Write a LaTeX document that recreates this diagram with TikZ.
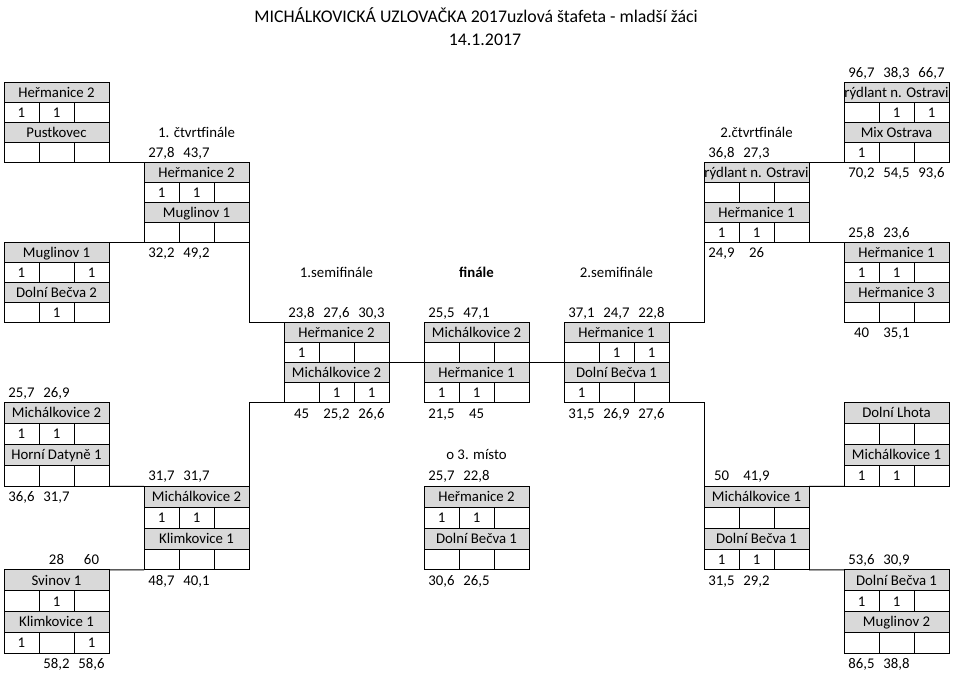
\documentclass[tikz,border=0pt]{standalone}
\usepackage{fontspec}
\setmainfont{Carlito}
\usepackage{xcolor}
\usetikzlibrary{positioning}
\definecolor{headgray}{HTML}{D9D9D9}
\tikzset{cellh/.store in=\cellh, cellh=20pt}
% one team: grey name row and three score cells below it
\newcommand{\team}[6]{%
  \node[head,anchor=north west] (#1) at (#2) {#3};
  \node[cell,anchor=north west] (#1-1) at (#1.south west) {#4};
  \node[cell,right=0pt of #1-1] (#1-2) {#5};
  \node[cell,right=0pt of #1-2] (#1-3) {#6};
}
% row of times, first one in column #2
\newcommand{\res}[4]{%
  \foreach \v [count=\i] in {#4}
    \node[num] (#1-\i) at ({21.5+35*(#2+\i-1)},#3) {\v};
}
\begin{document}
\begin{tikzpicture}[x=1pt,y=-1pt,
  txt/.style={font=\fontsize{14.8}{16}\selectfont,inner sep=0pt,outer sep=0pt,text height=9.6pt,text depth=0pt},
  head/.style={txt,draw,line width=1pt,fill=headgray,minimum width=105pt,minimum height=\cellh},
  cell/.style={txt,draw,line width=1pt,minimum width=35pt,minimum height=\cellh},
  num/.style={txt},
  lbl/.style={txt},
  ttl/.style={inner sep=0pt,font=\fontsize{17.8}{20}\selectfont},
  link/.style={line width=1pt}]
\path[fill=white,use as bounding box] (0,0) rectangle (958,685);
\node[ttl] (title) at (476,15) {MICHÁLKOVICKÁ UZLOVAČKA 2017uzlová štafeta - mladší žáci};
\node[ttl] (date) at (485,40) {14.1.2017};

\node[lbl] (lq1) at (196.5,132.7) {1. čtvrtfinále};
\node[lbl] (lq2) at (756.5,132.7) {2.čtvrtfinále};
\node[lbl] (ls1) at (336.5,272.7) {1.semifinále};
\node[lbl,font=\fontsize{14.8}{16}\selectfont\bfseries] (lfin) at (476.5,272.7) {finále};
\node[lbl] (ls2) at (616.5,272.7) {2.semifinále};
\node[lbl] (l3rd) at (476.5,455) {o 3. místo};

% upper half
\team{e1t}{4,82.7}{Heřmanice 2}{1}{1}{}
\team{e1b}{e1t-1.south west}{Pustkovec}{}{}{}
\team{q1t}{144,162.7}{Heřmanice 2}{1}{1}{}
\team{q1b}{q1t-1.south west}{Muglinov 1}{}{}{}
\team{e2t}{4,242.7}{Muglinov 1}{1}{}{1}
\team{e2b}{e2t-1.south west}{Dolní Bečva 2}{}{1}{}
\team{e5t}{844,82.7}{rýdlant n. Ostravi}{}{1}{1}
\team{e5b}{e5t-1.south west}{Mix Ostrava}{1}{}{}
\team{q2t}{704,162.7}{rýdlant n. Ostravi}{}{}{}
\team{q2b}{q2t-1.south west}{Heřmanice 1}{1}{1}{}
\team{e6t}{844,242.7}{Heřmanice 1}{1}{1}{}
\team{e6b}{e6t-1.south west}{Heřmanice 3}{}{}{}
\team{s1t}{284,322.7}{Heřmanice 2}{1}{}{}
\team{s1b}{s1t-1.south west}{Michálkovice 2}{}{1}{1}
\team{fint}{424,322.7}{Michálkovice 2}{}{}{}
\team{finb}{fint-1.south west}{Heřmanice 1}{1}{1}{}
\team{s2t}{564,322.7}{Heřmanice 1}{}{1}{1}
\team{s2b}{s2t-1.south west}{Dolní Bečva 1}{1}{}{}

% lower half, rows are a bit taller
\begin{scope}[cellh=20.9pt]
\team{e3t}{4,402.7}{Michálkovice 2}{1}{1}{}
\team{e3b}{e3t-1.south west}{Horní Datyně 1}{}{}{}
\team{q3t}{144,486.3}{Michálkovice 2}{1}{1}{}
\team{q3b}{q3t-1.south west}{Klimkovice 1}{}{}{}
\team{e4t}{4,569.9}{Svinov 1}{}{1}{}
\team{e4b}{e4t-1.south west}{Klimkovice 1}{1}{}{1}
\team{thrt}{424,486.3}{Heřmanice 2}{1}{1}{}
\team{thrb}{thrt-1.south west}{Dolní Bečva 1}{}{}{}
\team{e7t}{844,402.7}{Dolní Lhota}{}{}{}
\team{e7b}{e7t-1.south west}{Michálkovice 1}{1}{1}{}
\team{q4t}{704,486.3}{Michálkovice 1}{}{}{}
\team{q4b}{q4t-1.south west}{Dolní Bečva 1}{1}{1}{}
\team{e8t}{844,569.9}{Dolní Bečva 1}{1}{1}{}
\team{e8b}{e8t-1.south west}{Muglinov 2}{}{}{}
\end{scope}

\res{n1}{4}{152.7}{{27,8},{43,7}}
\res{n2}{4}{252.7}{{32,2},{49,2}}
\res{n3}{0}{392.7}{{25,7},{26,9}}
\res{n4}{0}{496.8}{{36,6},{31,7}}
\res{n5}{4}{475.9}{{31,7},{31,7}}
\res{n6}{4}{580.4}{{48,7},{40,1}}
\res{n7}{1}{559.5}{28,60}
\res{n8}{1}{664}{{58,2},{58,6}}
\res{n9}{8}{312.7}{{23,8},{27,6},{30,3}}
\res{n10}{12}{312.7}{{25,5},{47,1}}
\res{n11}{16}{312.7}{{37,1},{24,7},{22,8}}
\res{n12}{8}{413.2}{45,{25,2},{26,6}}
\res{n13}{12}{413.2}{{21,5},45}
\res{n14}{16}{413.2}{{31,5},{26,9},{27,6}}
\res{n15}{12}{475.9}{{25,7},{22,8}}
\res{n16}{12}{580.4}{{30,6},{26,5}}
\res{n17}{24}{72.7}{{96,7},{38,3},{66,7}}
\res{n18}{20}{152.7}{{36,8},{27,3}}
\res{n19}{24}{172.7}{{70,2},{54,5},{93,6}}
\res{n20}{24}{232.7}{{25,8},{23,6}}
\res{n21}{20}{252.7}{{24,9},26}
\res{n22}{24}{332.7}{40,{35,1}}
\res{n23}{20}{475.9}{50,{41,9}}
\res{n24}{20}{580.4}{{31,5},{29,2}}
\res{n25}{24}{559.5}{{53,6},{30,9}}
\res{n26}{24}{664}{{86,5},{38,8}}

\draw[link] (e1b-3.south east) -- (q1t.north west);
\draw[link] (e2t.north east) -- (q1b-1.south west);
\draw[link] (q1b-3.south east) |- (s1t.north west);
\draw[link] (e3b-3.south east) -- (q3t.north west);
\draw[link] (e4t.north east) -- (q3b-1.south west);
\draw[link] (q3t.north east) |- (s1b-1.south west);
\draw[link] (s1b.north east) -- (finb.north west);
\draw[link] (finb.north east) -- (s2b.north west);
\draw[link] (e5b-1.south west) -- (q2t.north east);
\draw[link] (e6t.north west) -- (q2b-3.south east);
\draw[link] (q2b-1.south west) |- (s2t.north east);
\draw[link] (e7b-1.south west) -- (q4t.north east);
\draw[link] (e8t.north west) -- (q4b-3.south east);
\draw[link] (q4t.north west) |- (s2b-3.south east);
\end{tikzpicture}
\end{document}
